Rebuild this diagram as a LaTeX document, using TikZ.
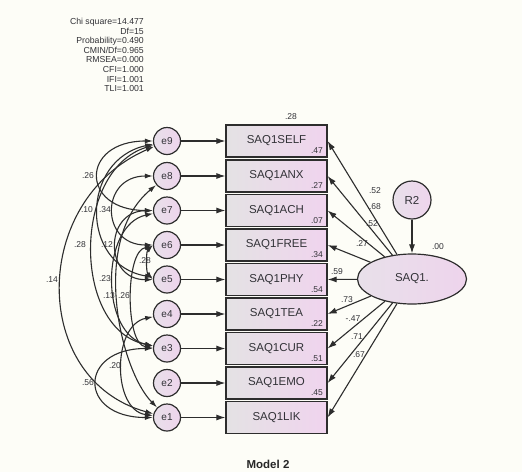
\documentclass[tikz,border=0pt]{standalone}
\usepackage{fontspec}
\setmainfont{Liberation Sans}
\usetikzlibrary{arrows.meta,shapes.geometric}
\definecolor{bg}{RGB}{253,253,247}
\definecolor{boxL}{RGB}{228,226,228}
\definecolor{boxR}{RGB}{240,212,238}
\definecolor{circL}{RGB}{232,224,234}
\definecolor{circR}{RGB}{238,212,236}
\definecolor{ln}{RGB}{45,45,45}
\definecolor{txt}{RGB}{50,50,55}
\begin{document}
\begin{tikzpicture}[x=1pt,y=-1pt,
  obs/.style={draw=ln, line width=1.2pt, minimum width=101pt, minimum height=32pt, inner sep=0pt,
    left color=boxL, right color=boxR, text=txt, font=\fontsize{11.5}{13}\selectfont},
  err/.style={circle, draw=ln, line width=1.2pt, minimum size=27pt, inner sep=0pt,
    left color=circL, right color=circR, text=txt, font=\fontsize{10}{12}\selectfont},
  lat/.style={ellipse, draw=ln, line width=1.2pt, minimum width=109pt, minimum height=50pt, inner sep=0pt,
    left color=circL, right color=circR, text=txt, font=\fontsize{11.5}{13}\selectfont},
  lab/.style={inner sep=0pt, text=txt, font=\fontsize{8.5}{10}\selectfont},
  arr/.style={draw=ln, line width=1.1pt, -{Latex[length=9pt,width=6pt]}},
  cov/.style={draw=ln, line width=1.1pt, {Latex[length=8pt,width=5pt]}-{Latex[length=8pt,width=5pt]}}
]
\fill[bg] (0,0) rectangle (522,472);
\useasboundingbox (0,0) rectangle (522,472);

% fit statistics
\node[lab, anchor=north east, align=right, font=\fontsize{8.7}{9.6}\selectfont] (fit) at (144,18)
  {Chi square=14.477\\Df=15\\Probability=0.490\\CMIN/Df=0.965\\RMSEA=0.000\\CFI=1.000\\IFI=1.001\\TLI=1.001};

% observed variables
\node[obs] (b9) at (276.5,141)   {SAQ1SELF};
\node[obs] (b8) at (276.5,176)   {SAQ1ANX};
\node[obs] (b7) at (276.5,210.5) {SAQ1ACH};
\node[obs] (b6) at (276.5,245)   {SAQ1FREE};
\node[obs] (b5) at (276.5,279.5) {SAQ1PHY};
\node[obs] (b4) at (276.5,314)   {SAQ1TEA};
\node[obs] (b3) at (276.5,348.5) {SAQ1CUR};
\node[obs] (b2) at (276.5,383)   {SAQ1EMO};
\node[obs] (b1) at (276.5,417.5) {SAQ1LIK};

% R-square values
\node[lab] (r9) at (317,151)   {.47};
\node[lab] (r8) at (317,186)   {.27};
\node[lab] (r7) at (317,220.5) {.07};
\node[lab] (r6) at (317,255)   {.34};
\node[lab] (r5) at (317,289.5) {.54};
\node[lab] (r4) at (317,324)   {.22};
\node[lab] (r3) at (317,358.5) {.51};
\node[lab] (r2) at (317,393)   {.45};
\node[lab] (rtop) at (291,117) {.28};

% error terms
\node[err] (e9) at (167,141)   {e9};
\node[err] (e8) at (167,176)   {e8};
\node[err] (e7) at (167,210.5) {e7};
\node[err] (e6) at (167,245)   {e6};
\node[err] (e5) at (167,279.5) {e5};
\node[err] (e4) at (167,314)   {e4};
\node[err] (e3) at (167,348.5) {e3};
\node[err] (e2) at (167,383)   {e2};
\node[err] (e1) at (167,417.5) {e1};

\foreach \i in {1,...,9} { \draw[arr] (e\i) -- (b\i); }

% latent factor and its residual
\node[lat] (F) at (412,279) {SAQ1.};
\node[err, minimum size=38pt, font=\fontsize{11.5}{13}\selectfont] (R) at (412,200) {R2};
\draw[arr] (R) -- (F);
\node[lab] (r0) at (438,247) {.00};

% loadings
\foreach \i in {1,...,9} { \draw[arr] (F) -- (b\i.east); }
\node[lab] (l9) at (375,191) {.52};
\node[lab] (l8) at (375,207) {.68};
\node[lab] (l7) at (372,224) {.52};
\node[lab] (l6) at (362,244) {.27};
\node[lab] (l5) at (337,272) {.59};
\node[lab] (l4) at (347,300) {.73};
\node[lab] (l3) at (353,319) {-.47};
\node[lab] (l2) at (357,337) {.71};
\node[lab] (l1) at (359,355) {.67};

% covariances between error terms
\draw[cov] (e9) .. controls (80,141) and (80,210.5) .. (e7);
\draw[cov] (e9) .. controls (30,200) and (30,380) .. (e1);
\draw[cov] (e9) .. controls (80,160) and (80,265) .. (e5);
\draw[cov] (e9) .. controls (72,170) and (72,330) .. (e3);
\draw[cov] (e8) .. controls (100,176) and (100,245) .. (e6);
\draw[cov] (e7) .. controls (104,211) and (104,280) .. (e5);
\draw[cov] (e7) .. controls (100,225) and (100,335) .. (e3);
\draw[cov] (e8) .. controls (90,240) and (120,370) .. (e1);
\draw[cov] (e6) .. controls (125,250) and (125,345) .. (e3);
\draw[cov] (e6.west) .. controls (146,252) and (146,272) .. (e5.west);
\draw[cov] (e4) .. controls (112,325) and (112,410) .. (e1);
\draw[cov] (e3) .. controls (78,348.5) and (78,417.5) .. (e1);

\node[lab] (c1) at (88,176)  {.26};
\node[lab] (c2) at (52,280)  {.14};
\node[lab] (c3) at (87,210)  {.10};
\node[lab] (c4) at (80,245)  {.28};
\node[lab] (c5) at (105,210) {.34};
\node[lab] (c6) at (107,245) {.12};
\node[lab] (c7) at (105,279) {.23};
\node[lab] (c8) at (109,296) {.13};
\node[lab] (c9) at (124,296) {.26};
\node[lab] (c10) at (145,261) {.28};
\node[lab] (c11) at (115,366) {.20};
\node[lab] (c12) at (88,383) {.56};

\node[inner sep=0pt, text=black!85, font=\fontsize{11.5}{13}\selectfont\bfseries] (title) at (268,464) {Model 2};
\end{tikzpicture}
\end{document}
